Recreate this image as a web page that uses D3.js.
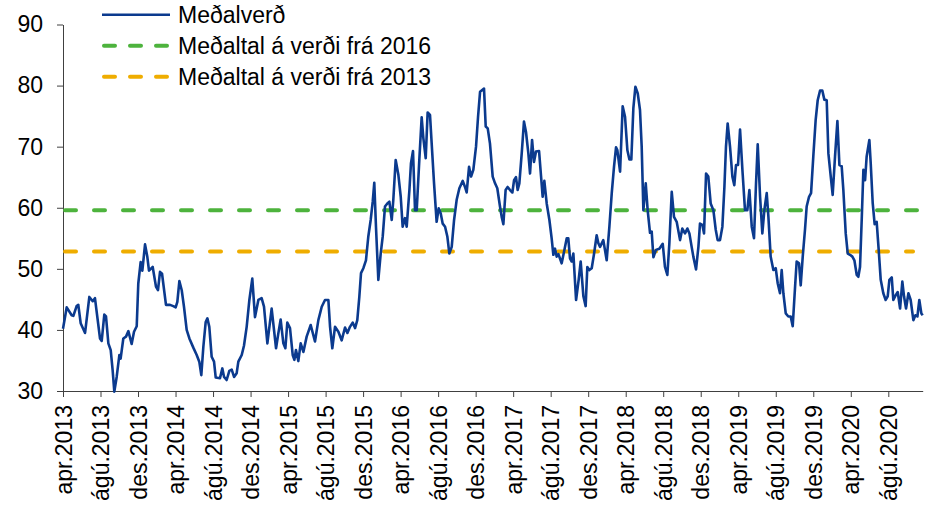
<!DOCTYPE html>
<html>
<head>
<meta charset="utf-8">
<script src="https://cdn.jsdelivr.net/npm/d3@7/dist/d3.min.js"></script>
<style>
  body { margin: 0; background: #fff; }
  svg { display: block; font-family: "Liberation Sans", Arial, sans-serif; }
  .axis path, .axis line { stroke: #404040; stroke-width: 1; }
  .axis text { fill: #000; font-size: 23px; }
</style>
</head>
<body>
<div id="chart"></div>
<script>
// Meðalverð, weekly, [decimal year, value]
var medalverd = [
  [2013.250,40.2],[2013.283,43.7],[2013.327,42.4],[2013.342,42.3],[2013.371,43.9],[2013.386,44.1],
  [2013.407,41.1],[2013.446,39.5],[2013.484,45.4],[2013.514,44.7],[2013.534,45.2],[2013.549,43.0],
  [2013.579,38.6],[2013.594,38.2],[2013.617,42.5],[2013.632,42.2],[2013.653,37.8],[2013.674,36.7],
  [2013.691,33.4],[2013.706,29.9],[2013.727,32.3],[2013.751,35.9],[2013.762,35.3],[2013.786,38.6],
  [2013.810,38.9],[2013.831,39.8],[2013.860,37.7],[2013.881,39.7],[2013.905,40.6],[2013.919,47.6],
  [2013.940,51.1],[2013.955,49.7],[2013.979,54.0],[2013.999,52.0],[2014.014,49.7],[2014.047,50.3],
  [2014.076,47.1],[2014.094,46.5],[2014.112,49.5],[2014.130,49.2],[2014.165,44.1],[2014.201,44.1],
  [2014.230,43.9],[2014.251,43.7],[2014.266,44.6],[2014.284,48.0],[2014.305,46.5],[2014.325,43.8],
  [2014.349,40.0],[2014.373,38.6],[2014.408,37.1],[2014.438,35.9],[2014.461,34.8],[2014.479,32.6],
  [2014.497,37.2],[2014.518,41.3],[2014.533,41.9],[2014.550,40.5],[2014.571,35.6],[2014.592,34.8],
  [2014.607,32.2],[2014.645,32.1],[2014.666,33.7],[2014.681,32.3],[2014.704,31.8],[2014.728,33.3],
  [2014.749,33.5],[2014.770,32.3],[2014.793,32.9],[2014.808,34.8],[2014.838,35.9],[2014.858,37.4],
  [2014.882,40.5],[2014.906,44.9],[2014.932,48.4],[2014.956,42.1],[2014.986,44.9],[2015.015,45.2],
  [2015.036,43.8],[2015.066,37.8],[2015.104,43.5],[2015.143,37.0],[2015.163,39.4],[2015.184,41.7],
  [2015.208,37.8],[2015.226,37.0],[2015.243,41.2],[2015.267,40.3],[2015.291,35.9],[2015.306,35.1],
  [2015.320,36.7],[2015.341,34.9],[2015.362,37.8],[2015.386,36.4],[2015.415,38.9],[2015.451,40.8],
  [2015.489,38.1],[2015.519,41.6],[2015.549,43.8],[2015.578,44.9],[2015.608,44.9],[2015.623,40.5],
  [2015.643,37.0],[2015.667,40.5],[2015.697,39.7],[2015.726,38.3],[2015.756,40.4],[2015.777,39.5],
  [2015.800,40.5],[2015.824,41.2],[2015.845,40.3],[2015.865,41.6],[2015.883,45.4],[2015.898,49.3],
  [2015.919,50.1],[2015.942,51.4],[2015.963,55.3],[2015.984,58.0],[2016.002,61.0],[2016.016,64.1],
  [2016.031,56.9],[2016.052,48.2],[2016.073,52.5],[2016.091,55.3],[2016.111,60.2],[2016.132,60.7],
  [2016.150,61.0],[2016.171,58.0],[2016.185,61.3],[2016.206,67.8],[2016.230,65.4],[2016.251,61.8],
  [2016.268,56.9],[2016.289,58.3],[2016.304,56.9],[2016.328,62.9],[2016.342,67.3],[2016.360,69.3],
  [2016.378,59.6],[2016.393,59.6],[2016.416,67.8],[2016.437,74.8],[2016.452,71.4],[2016.473,68.1],
  [2016.490,75.6],[2016.511,75.2],[2016.526,70.5],[2016.547,64.0],[2016.570,57.7],[2016.588,59.9],
  [2016.606,59.1],[2016.624,57.4],[2016.645,56.9],[2016.665,55.3],[2016.683,52.5],[2016.704,53.6],
  [2016.725,58.0],[2016.748,61.3],[2016.772,63.2],[2016.802,64.4],[2016.822,63.4],[2016.837,62.5],
  [2016.858,66.7],[2016.876,65.1],[2016.896,66.2],[2016.920,70.0],[2016.938,74.9],[2016.956,79.0],
  [2016.991,79.5],[2017.006,73.3],[2017.024,73.0],[2017.044,70.5],[2017.068,65.1],[2017.089,64.0],
  [2017.109,63.2],[2017.133,60.2],[2017.148,58.5],[2017.163,57.3],[2017.183,62.9],[2017.201,63.4],
  [2017.222,62.9],[2017.243,62.5],[2017.258,64.5],[2017.275,65.0],[2017.290,62.9],[2017.305,64.0],
  [2017.326,68.9],[2017.346,74.1],[2017.364,72.4],[2017.385,68.9],[2017.400,65.6],[2017.418,71.1],
  [2017.435,67.5],[2017.453,69.2],[2017.480,69.3],[2017.498,65.1],[2017.512,61.8],[2017.527,64.4],
  [2017.548,60.7],[2017.572,58.0],[2017.592,55.0],[2017.607,52.3],[2017.622,53.3],[2017.637,52.0],
  [2017.652,52.4],[2017.666,51.7],[2017.681,50.9],[2017.702,52.8],[2017.726,55.0],[2017.740,55.0],
  [2017.755,51.7],[2017.770,51.2],[2017.785,52.5],[2017.809,44.9],[2017.832,48.2],[2017.850,51.2],
  [2017.874,45.5],[2017.894,43.9],[2017.909,50.3],[2017.927,49.8],[2017.948,50.1],[2017.969,52.5],
  [2017.992,55.5],[2018.007,54.2],[2018.022,53.6],[2018.051,54.7],[2018.081,51.4],[2018.105,56.9],
  [2018.126,62.4],[2018.146,66.7],[2018.164,69.9],[2018.176,69.4],[2018.200,65.9],[2018.223,76.6],
  [2018.244,74.9],[2018.265,69.4],[2018.283,67.9],[2018.300,67.9],[2018.318,76.3],[2018.336,79.8],
  [2018.357,78.7],[2018.377,76.0],[2018.392,70.0],[2018.407,59.6],[2018.428,64.0],[2018.445,59.6],
  [2018.466,55.9],[2018.481,56.1],[2018.496,51.9],[2018.519,53.1],[2018.549,53.3],[2018.579,54.1],
  [2018.599,50.3],[2018.620,49.0],[2018.638,54.2],[2018.659,62.6],[2018.679,58.5],[2018.703,57.7],
  [2018.733,54.7],[2018.753,56.6],[2018.777,55.8],[2018.798,56.6],[2018.816,55.8],[2018.836,53.6],
  [2018.851,52.0],[2018.875,49.9],[2018.896,53.6],[2018.910,57.4],[2018.931,57.2],[2018.946,55.8],
  [2018.964,65.6],[2018.984,65.1],[2019.005,60.7],[2019.029,59.6],[2019.050,56.4],[2019.067,54.7],
  [2019.088,54.7],[2019.109,56.9],[2019.127,63.4],[2019.141,70.0],[2019.156,73.8],[2019.177,70.0],
  [2019.198,65.1],[2019.215,63.7],[2019.230,67.0],[2019.248,67.0],[2019.266,72.8],[2019.287,66.2],
  [2019.310,59.6],[2019.331,59.6],[2019.349,62.9],[2019.370,56.9],[2019.390,55.0],[2019.408,64.0],
  [2019.423,70.4],[2019.444,61.8],[2019.464,55.8],[2019.482,59.6],[2019.503,62.4],[2019.518,58.5],
  [2019.538,52.0],[2019.562,49.8],[2019.583,50.1],[2019.601,47.6],[2019.621,46.0],[2019.636,49.8],
  [2019.651,46.0],[2019.672,42.7],[2019.695,42.2],[2019.716,42.2],[2019.734,40.6],[2019.755,47.1],
  [2019.769,51.2],[2019.790,50.9],[2019.805,47.3],[2019.823,52.0],[2019.843,56.4],[2019.858,60.2],
  [2019.879,61.8],[2019.897,62.4],[2019.917,68.4],[2019.938,74.4],[2019.956,77.6],[2019.977,79.2],
  [2019.997,79.2],[2020.015,77.7],[2020.036,77.6],[2020.051,68.9],[2020.072,65.1],[2020.089,62.1],
  [2020.110,68.4],[2020.131,74.2],[2020.149,67.0],[2020.169,66.8],[2020.184,62.9],[2020.205,55.8],
  [2020.223,52.5],[2020.243,52.3],[2020.264,52.0],[2020.282,51.4],[2020.303,49.0],[2020.317,48.7],
  [2020.332,50.3],[2020.347,58.0],[2020.362,66.2],[2020.377,64.5],[2020.391,68.4],[2020.415,71.1],
  [2020.427,67.3],[2020.445,60.7],[2020.462,57.3],[2020.480,57.7],[2020.498,53.1],[2020.516,48.2],
  [2020.539,46.0],[2020.560,44.9],[2020.578,45.5],[2020.593,48.2],[2020.614,48.6],[2020.628,44.9],
  [2020.649,45.7],[2020.667,46.2],[2020.688,43.5],[2020.708,47.9],[2020.723,45.5],[2020.741,43.5],
  [2020.762,46.0],[2020.782,44.9],[2020.806,41.6],[2020.824,42.4],[2020.842,42.2],[2020.859,44.9],
  [2020.877,42.7],[2020.889,42.4]
];

// averages: [start, end, value]
var avg2016 = [2013.25, 2020.889, 59.6];
var avg2013 = [2013.25, 2020.803, 52.85];

var seriesNames = ["Meðalverð", "Meðaltal á verði frá 2016", "Meðaltal á verði frá 2013"];
var seriesColors = ["#0b3a8e", "#4db33d", "#efad00"];

var tickLabels = [
  "apr.2013","ágú.2013","des.2013","apr.2014","ágú.2014","des.2014",
  "apr.2015","ágú.2015","des.2015","apr.2016","ágú.2016","des.2016",
  "apr.2017","ágú.2017","des.2017","apr.2018","ágú.2018","des.2018",
  "apr.2019","ágú.2019","des.2019","apr.2020","ágú.2020"
];
var monthIndex = {"apr": 3, "ágú": 7, "des": 11};
var yTicks = [30, 40, 50, 60, 70, 80, 90];

var width = 926, height = 506;

var svg = d3.select("#chart").append("svg")
    .attr("width", width)
    .attr("height", height);

var x = d3.scaleLinear()
    .domain([2013.25, 2020.889])
    .range([63, 922.7]);

var y = d3.scaleLinear()
    .domain([30, 90])
    .range([391, 24.5]);

// label -> decimal year position
function labelPos(lbl) {
    var parts = lbl.split(".");
    return +parts[1] + monthIndex[parts[0]] / 12;
}

// x axis
var xAxis = svg.append("g")
    .attr("class", "axis")
    .attr("transform", "translate(0," + y(30) + ")")
    .call(d3.axisBottom(x)
        .tickValues(tickLabels.map(labelPos))
        .tickFormat(function(d, i) { return tickLabels[i]; })
        .tickSize(6)
        .tickSizeOuter(0));

xAxis.selectAll("text")
    .attr("transform", "rotate(-90)")
    .attr("x", -14)
    .attr("y", 0)
    .attr("dy", "0.35em")
    .style("text-anchor", "end");

// y axis
svg.append("g")
    .attr("class", "axis")
    .attr("transform", "translate(" + x(2013.25) + ",0)")
    .call(d3.axisLeft(y)
        .tickValues(yTicks)
        .tickSize(6)
        .tickPadding(14)
        .tickSizeOuter(0));

// average lines
[avg2013, avg2016].forEach(function(a) {
    svg.append("line")
        .attr("x1", x(a[0]))
        .attr("x2", x(a[1]))
        .attr("y1", y(a[2]))
        .attr("y2", y(a[2]))
        .attr("stroke", a === avg2016 ? seriesColors[1] : seriesColors[2])
        .attr("stroke-width", 4)
        .attr("stroke-linecap", "round")
        .attr("stroke-dasharray", "11,18")
        .attr("stroke-dashoffset", -2);
});

// price line
var line = d3.line()
    .x(function(d) { return x(d[0]); })
    .y(function(d) { return y(d[1]); });

svg.append("path")
    .datum(medalverd)
    .attr("fill", "none")
    .attr("stroke", seriesColors[0])
    .attr("stroke-width", 2.6)
    .attr("stroke-linejoin", "round")
    .attr("d", line);

// legend
var legend = svg.selectAll(".legend")
    .data(seriesNames)
    .enter().append("g")
    .attr("class", "legend")
    .attr("transform", function(d, i) { return "translate(102," + (14.7 + i * 31) + ")"; });

legend.append("line")
    .attr("x1", function(d, i) { return i === 0 ? 0 : 2; })
    .attr("x2", 68)
    .attr("stroke", function(d, i) { return seriesColors[i]; })
    .attr("stroke-width", function(d, i) { return i === 0 ? 2.6 : 4; })
    .attr("stroke-linecap", function(d, i) { return i === 0 ? "butt" : "round"; })
    .attr("stroke-dasharray", function(d, i) { return i === 0 ? null : "11,15"; });

legend.append("text")
    .attr("x", 76)
    .attr("y", 8)
    .style("font-size", "23px")
    .text(function(d) { return d; });
</script>
</body>
</html>
